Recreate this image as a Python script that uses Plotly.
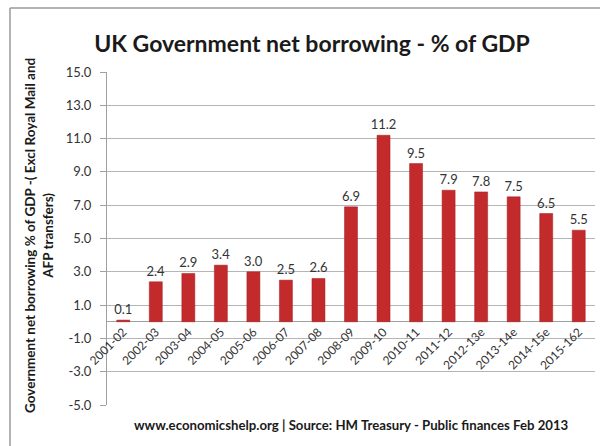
import plotly.graph_objects as go

categories = ["2001-02", "2002-03", "2003-04", "2004-05", "2005-06", "2006-07", "2007-08",
              "2008-09", "2009-10", "2010-11", "2011-12", "2012-13e", "2013-14e", "2014-15e", "2015-162"]
values = [0.1, 2.4, 2.9, 3.4, 3.0, 2.5, 2.6, 6.9, 11.2, 9.5, 7.9, 7.8, 7.5, 6.5, 5.5]
y_ticks = [-5, -3, -1, 1, 3, 5, 7, 9, 11, 13, 15]
y_tick_labels = ["-5.0", "-3.0", "-1.0", "1.0", "3.0", "5.0", "7.0", "9.0", "11.0", "13.0", "15.0"]

title_text = "UK Government net borrowing - % of GDP"
ytitle = "Government net borrowing % of GDP -( Excl Royal Mail and<br>AFP transfers)"
footer = "www.economicshelp.org | Source: HM Treasury - Public finances Feb 2013"

FONT = "Lato"
W, H = 600, 446
L, R, T, B = 107, 5, 72, 41
pw, ph = W - L - R, H - T - B
ymin, ymax = -5, 15

fig = go.Figure()
fig.add_trace(go.Bar(
    x=categories, y=values,
    marker=dict(color="#c22a2c", line=dict(color="#a51e20", width=0.5)),
    text=values, texttemplate="%{y:.1f}", textposition="outside",
    textfont=dict(family=FONT, size=13, color="#333333"),
    cliponaxis=False, constraintext="none",
))

fig.update_layout(
    width=W, height=H,
    margin=dict(l=L, r=R, t=T, b=B),
    paper_bgcolor="white", plot_bgcolor="white",
    bargap=0.6,
    showlegend=False,
    font=dict(family=FONT, color="#333333"),
    title=dict(text="<b>" + title_text + "</b>", x=312 / W, xanchor="center",
               y=1 - 44 / H, yanchor="middle",
               font=dict(family=FONT, size=23, color="#1a1a1a")),
)

fig.update_yaxes(
    range=[ymin, ymax], tickmode="array", tickvals=y_ticks, ticktext=y_tick_labels,
    showgrid=True, gridcolor="#b5b5b5", gridwidth=1,
    zeroline=True, zerolinecolor="#a0a0a0", zerolinewidth=1,
    showline=True, linecolor="#a0a0a0", linewidth=1,
    ticks="outside", ticklen=6, tickcolor="#a0a0a0",
    ticklabelstandoff=6,
    tickfont=dict(family=FONT, size=13, color="#333333"),
)
zero_pos = (0 - ymin) / (ymax - ymin)
fig.update_xaxes(
    type="category",
    anchor="free", position=zero_pos,
    tickangle=-45, showline=False,
    tickfont=dict(family=FONT, size=12, color="#333333"),
    ticks="",
)

fig.add_annotation(
    text="<b>" + ytitle + "</b>", textangle=-90,
    xref="paper", yref="paper", x=(39 - L) / pw, y=(H - B - 236) / ph,
    xanchor="center", yanchor="middle", showarrow=False,
    font=dict(family=FONT, size=13.5, color="#1a1a1a"),
)
fig.add_annotation(
    text="<b>" + footer + "</b>",
    xref="paper", yref="paper", x=(351 - L) / pw, y=(H - B - 425) / ph,
    xanchor="center", yanchor="middle", showarrow=False,
    font=dict(family=FONT, size=13.2, color="#1a1a1a"),
)

# outer frame lines
fx = (10 - L) / pw
fy = (H - B - 8) / ph
fig.add_shape(type="line", xref="paper", yref="paper", x0=fx, x1=1.2, y0=fy, y1=fy,
              line=dict(color="#9a9a9a", width=1.5))
fig.add_shape(type="line", xref="paper", yref="paper", x0=fx, x1=fx, y0=fy, y1=-0.3,
              line=dict(color="#9a9a9a", width=1.5))

fig.write_html("out.html")
